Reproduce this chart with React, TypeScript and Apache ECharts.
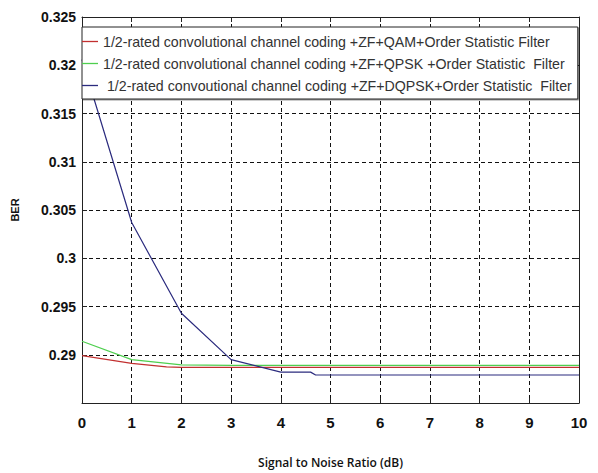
import React, { useEffect, useRef } from "react";
import * as echarts from "echarts";

const seriesNames = [
  "1/2-rated convolutional channel coding +ZF+QAM+Order Statistic Filter",
  "1/2-rated convolutional channel coding +ZF+QPSK +Order Statistic  Filter",
  " 1/2-rated convoutional channel coding +ZF+DQPSK+Order Statistic  Filter",
];
const seriesColors = ["#c23030", "#4fcf4f", "#2b2b7e"];

const qamData: [number, number][] = [
  [0, 0.2899], [1, 0.2891], [1.7, 0.28875], [2, 0.2887], [3, 0.2887], [4, 0.2887],
  [5, 0.2887], [6, 0.2887], [7, 0.2887], [8, 0.2887], [9, 0.2887], [10, 0.2887],
];
const qpskData: [number, number][] = [
  [0, 0.2914], [1, 0.2895], [2, 0.28895], [3, 0.2889], [4, 0.2889], [5, 0.2889],
  [6, 0.2889], [7, 0.2889], [8, 0.2889], [9, 0.2889], [10, 0.2889],
];
const dqpskData: [number, number][] = [
  [0, 0.3206], [1, 0.3037], [2, 0.2943], [3, 0.2895], [4, 0.2882], [4.6, 0.2882],
  [4.7, 0.2879], [5, 0.2879], [6, 0.2879], [7, 0.2879], [8, 0.2879], [9, 0.2879], [10, 0.2879],
];

const xMin = 0, xMax = 10, xStep = 1;
const yMin = 0.285, yMax = 0.325, yStep = 0.005;

export default function App() {
  const ref = useRef<HTMLDivElement>(null);
  useEffect(() => {
    if (!ref.current) return;
    const chart = echarts.init(ref.current, null, { renderer: "svg" });
    const tickFont = {
      fontFamily: "Liberation Sans",
      fontWeight: "bold" as const,
      fontSize: 14,
      color: "#111",
    };
    const datas = [qamData, qpskData, dqpskData];
    chart.setOption({
      animation: false,
      backgroundColor: "#fff",
      grid: { left: 82, right: 19, top: 17, bottom: 63, show: false },
      legend: {
        orient: "vertical",
        left: 82,
        top: 27,
        padding: [7, 6, 6, 0],
        itemGap: 7,
        itemWidth: 16,
        itemHeight: 1.3,
        icon: "rect",
        backgroundColor: "#fff",
        borderColor: "#222",
        borderWidth: 1,
        shadowColor: "rgba(0,0,0,0.4)",
        shadowOffsetX: 1,
        shadowOffsetY: 1,
        shadowBlur: 1,
        textStyle: { fontFamily: "Liberation Sans", fontSize: 14.2, lineHeight: 15, color: "#333" },
        data: seriesNames,
        z: 10,
      },
      xAxis: [
        {
          type: "value",
          min: xMin,
          max: xMax,
          interval: xStep,
          name: "Signal to Noise Ratio (dB)",
          nameLocation: "middle",
          nameGap: 53,
          nameTextStyle: { fontFamily: "Open Sans", fontWeight: 600, fontSize: 12, color: "#111" },
          axisLine: { show: true, lineStyle: { color: "#222", width: 1 } },
          axisTick: { show: true, inside: true, length: 5, lineStyle: { color: "#222" } },
          axisLabel: { ...tickFont, fontSize: 15, margin: 12 },
          splitLine: { show: true, lineStyle: { color: "#111", type: [4, 3], width: 1 } },
        },
        {
          type: "value",
          position: "top",
          min: xMin,
          max: xMax,
          interval: xStep,
          axisLine: { show: true, onZero: false, lineStyle: { color: "#222", width: 1 } },
          axisTick: { show: true, inside: true, length: 5, lineStyle: { color: "#222" } },
          axisLabel: { show: false },
          splitLine: { show: false },
        },
      ],
      yAxis: [
        {
          type: "value",
          min: yMin,
          max: yMax,
          interval: yStep,
          name: "BER",
          nameLocation: "middle",
          nameGap: 62,
          nameTextStyle: { fontFamily: "Liberation Sans", fontWeight: "bold", fontSize: 11, color: "#111" },
          axisLine: { show: true, lineStyle: { color: "#222", width: 1 } },
          axisTick: { show: true, inside: true, length: 5, lineStyle: { color: "#222" } },
          axisLabel: {
            ...tickFont,
            margin: 6,
            formatter: (v: number) => (v < yMin + yStep / 2 ? "" : String(parseFloat(v.toFixed(3)))),
          },
          splitLine: { show: true, lineStyle: { color: "#111", type: [4, 3], width: 1 } },
        },
        {
          type: "value",
          position: "right",
          min: yMin,
          max: yMax,
          interval: yStep,
          axisLine: { show: true, onZero: false, lineStyle: { color: "#222", width: 1 } },
          axisTick: { show: true, inside: true, length: 5, lineStyle: { color: "#222" } },
          axisLabel: { show: false },
          splitLine: { show: false },
        },
      ],
      series: seriesNames.map((name, i) => ({
        name,
        type: "line",
        data: datas[i],
        showSymbol: false,
        symbol: "none",
        color: seriesColors[i],
        lineStyle: { color: seriesColors[i], width: 1.2 },
        z: 3,
      })),
    });
    return () => chart.dispose();
  }, []);
  return <div ref={ref} style={{ width: 598, height: 473, position: "absolute", left: 0, top: 0 }} />;
}
